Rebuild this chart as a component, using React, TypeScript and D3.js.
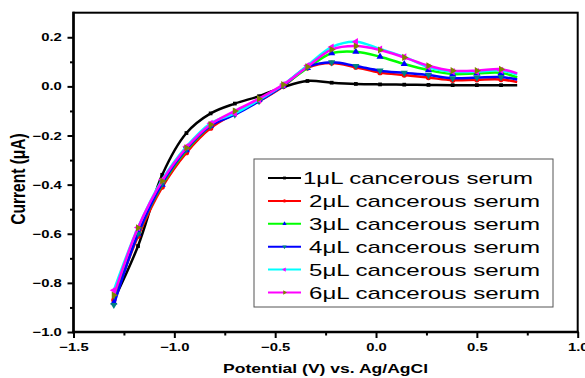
import { useEffect, useRef } from 'react';
import * as d3 from 'd3';

const POTENTIAL = [-1.3, -1.18, -1.06, -0.94, -0.82, -0.7, -0.58, -0.46, -0.34, -0.22, -0.1, 0.02, 0.14, 0.26, 0.38, 0.5, 0.62, 0.7];

const CURRENT_1UL = [-0.87, -0.65, -0.36, -0.19, -0.11, -0.07, -0.04, -0.003, 0.022, 0.015, 0.01, 0.008, 0.007, 0.006, 0.005, 0.005, 0.005, 0.005];
const CURRENT_2UL = [-0.87, -0.61, -0.41, -0.27, -0.17, -0.11, -0.06, 0.0, 0.075, 0.095, 0.078, 0.056, 0.046, 0.036, 0.025, 0.027, 0.028, 0.018];
const CURRENT_3UL = [-0.88, -0.6, -0.4, -0.26, -0.16, -0.105, -0.055, 0.003, 0.075, 0.135, 0.141, 0.121, 0.091, 0.066, 0.05, 0.053, 0.055, 0.036];
const CURRENT_4UL = [-0.89, -0.6, -0.395, -0.255, -0.16, -0.115, -0.06, 0.003, 0.078, 0.098, 0.083, 0.064, 0.055, 0.046, 0.033, 0.036, 0.038, 0.028];
const CURRENT_5UL = [-0.83, -0.575, -0.38, -0.245, -0.15, -0.11, -0.055, 0.007, 0.085, 0.16, 0.182, 0.152, 0.12, 0.078, 0.06, 0.06, 0.065, 0.048];
const CURRENT_6UL = [-0.85, -0.576, -0.385, -0.25, -0.155, -0.1, -0.05, 0.007, 0.08, 0.15, 0.164, 0.148, 0.118, 0.084, 0.064, 0.064, 0.07, 0.053];

const SERIES_LABELS = [
  '1μL cancerous serum',
  '2μL cancerous serum',
  '3μL cancerous serum',
  '4μL cancerous serum',
  '5μL cancerous serum',
  '6μL cancerous serum',
];
const LINE_COLORS = ['#000000', '#ff0000', '#00ff00', '#0000ff', '#00ffff', '#ff00ff'];
const MARKER_COLORS = ['#000000', '#ff0000', '#0000ff', '#008080', '#ff00ff', '#808000'];
const MARKER_SHAPES = ['square', 'circle', 'up', 'down', 'left', 'right'];

const X_TICKS = [-1.5, -1.0, -0.5, 0.0, 0.5, 1.0];
const X_MINOR = [-1.25, -0.75, -0.25, 0.25, 0.75];
const Y_TICKS = [-1.0, -0.8, -0.6, -0.4, -0.2, 0.0, 0.2];
const Y_MINOR = [-0.9, -0.7, -0.5, -0.3, -0.1, 0.1];

const FONT = '"Liberation Sans", Arial, sans-serif';
const SX = 1.35; // the original is stretched sideways

function markerPath(shape: string, size: number) {
  const type = shape === 'square' ? d3.symbolSquare : shape === 'circle' ? d3.symbolCircle : d3.symbolTriangle;
  return d3.symbol().type(type).size(size)();
}
function markerRotate(shape: string) {
  if (shape === 'down') return 180;
  if (shape === 'left') return -90;
  if (shape === 'right') return 90;
  return 0;
}

export default function App() {
  const ref = useRef<SVGSVGElement>(null);

  useEffect(() => {
    const W = 585, H = 378;
    const m = { top: 12.7, right: 7.3, bottom: 46, left: 73.5 };
    const svg = d3.select(ref.current);
    svg.selectAll('*').remove();

    const x = d3.scaleLinear().domain([-1.5, 1.0]).range([m.left, W - m.right]);
    const y = d3.scaleLinear().domain([-1.0, 0.3]).range([H - m.bottom, m.top]);

    const series = [CURRENT_1UL, CURRENT_2UL, CURRENT_3UL, CURRENT_4UL, CURRENT_5UL, CURRENT_6UL];

    // curves
    const line = d3.line<number>()
      .x((_, i) => x(POTENTIAL[i]))
      .y(d => y(d))
      .curve(d3.curveCatmullRom.alpha(0.5));

    series.forEach((vals, si) => {
      const g = svg.append('g');
      g.append('path')
        .attr('d', line(vals))
        .attr('fill', 'none')
        .attr('stroke', LINE_COLORS[si])
        .attr('stroke-width', 2.5);
      g.selectAll('path.mk')
        .data(vals.slice(0, vals.length - 1))
        .enter()
        .append('path')
        .attr('class', 'mk')
        .attr('d', markerPath(MARKER_SHAPES[si], si === 0 ? 14 : 22))
        .attr('fill', MARKER_COLORS[si])
        .attr('transform', (d, i) => `translate(${x(POTENTIAL[i])},${y(d)}) rotate(${markerRotate(MARKER_SHAPES[si])})`);
    });

    // frame
    svg.append('rect')
      .attr('x', x(-1.5)).attr('y', y(0.3))
      .attr('width', x(1.0) - x(-1.5)).attr('height', y(-1.0) - y(0.3))
      .attr('fill', 'none').attr('stroke', '#000').attr('stroke-width', 2);
    svg.append('line')
      .attr('x1', x(-1.5)).attr('x2', x(-1.5)).attr('y1', y(0.3) - 1).attr('y2', y(-1.0) + 1.25)
      .attr('stroke', '#000').attr('stroke-width', 2.5);
    svg.append('line')
      .attr('x1', x(-1.5) - 1.25).attr('x2', x(1.0) + 1).attr('y1', y(-1.0)).attr('y2', y(-1.0))
      .attr('stroke', '#000').attr('stroke-width', 2.5);

    // axes
    const xAxis = svg.append('g')
      .attr('transform', `translate(0,${y(-1.0)})`)
      .call(d3.axisBottom(x).tickValues(X_TICKS).tickSize(6).tickFormat(d3.format('.1f')));
    const xMinor = svg.append('g')
      .attr('transform', `translate(0,${y(-1.0)})`)
      .call(d3.axisBottom(x).tickValues(X_MINOR).tickSize(3.5).tickFormat(() => ''));
    const yAxis = svg.append('g')
      .attr('transform', `translate(${x(-1.5)},0)`)
      .call(d3.axisLeft(y).tickValues(Y_TICKS).tickSize(6).tickFormat(d3.format('.1f')));
    const yMinor = svg.append('g')
      .attr('transform', `translate(${x(-1.5)},0)`)
      .call(d3.axisLeft(y).tickValues(Y_MINOR).tickSize(3.5).tickFormat(() => ''));

    [xAxis, xMinor, yAxis, yMinor].forEach(a => {
      a.select('path.domain').remove();
      a.selectAll('line').attr('stroke', '#000').attr('stroke-width', 2);
      a.selectAll('text')
        .attr('font-family', FONT)
        .attr('font-size', 11)
        .attr('font-weight', 'bold')
        .attr('fill', '#000')
        .attr('transform', `scale(${SX},1)`);
    });
    xAxis.selectAll('text').attr('y', 11);
    yAxis.selectAll('text').attr('x', -8.7);

    // axis titles
    svg.append('text')
      .attr('transform', `translate(${(x(-1.5) + x(1.0)) / 2},373) scale(${SX},1)`)
      .attr('text-anchor', 'middle')
      .attr('font-family', FONT)
      .attr('font-size', 13)
      .attr('font-weight', 'bold')
      .text('Potential (V) vs. Ag/AgCl');

    svg.append('text')
      .attr('transform', `translate(25,179) scale(${SX},1) rotate(-90)`)
      .attr('text-anchor', 'middle')
      .attr('font-family', FONT)
      .attr('font-size', 15.5)
      .attr('font-weight', 'bold')
      .text('Current (μA)');

    // legend
    const legend = svg.append('g');
    legend.append('rect')
      .attr('x', 254).attr('y', 159).attr('width', 299).attr('height', 148)
      .attr('fill', '#fff').attr('stroke', '#555').attr('stroke-width', 1);

    SERIES_LABELS.forEach((label, i) => {
      const cy = 178 + i * 22.9;
      legend.append('line')
        .attr('x1', 268).attr('x2', 301).attr('y1', cy).attr('y2', cy)
        .attr('stroke', LINE_COLORS[i]).attr('stroke-width', 2);
      legend.append('path')
        .attr('d', markerPath(MARKER_SHAPES[i], 8))
        .attr('fill', MARKER_COLORS[i])
        .attr('transform', `translate(284.5,${cy}) rotate(${markerRotate(MARKER_SHAPES[i])})`);
      legend.append('text')
        .attr('x', i === 0 ? 303 : 309)
        .attr('y', cy + 6)
        .attr('font-family', FONT)
        .attr('font-size', 17)
        .attr('textLength', i === 0 ? 230 : 231)
        .attr('lengthAdjust', 'spacingAndGlyphs')
        .text(label);
    });
  }, []);

  return <svg ref={ref} width={585} height={378} style={{ position: 'absolute', left: 0, top: 0, background: '#fff' }} />;
}
